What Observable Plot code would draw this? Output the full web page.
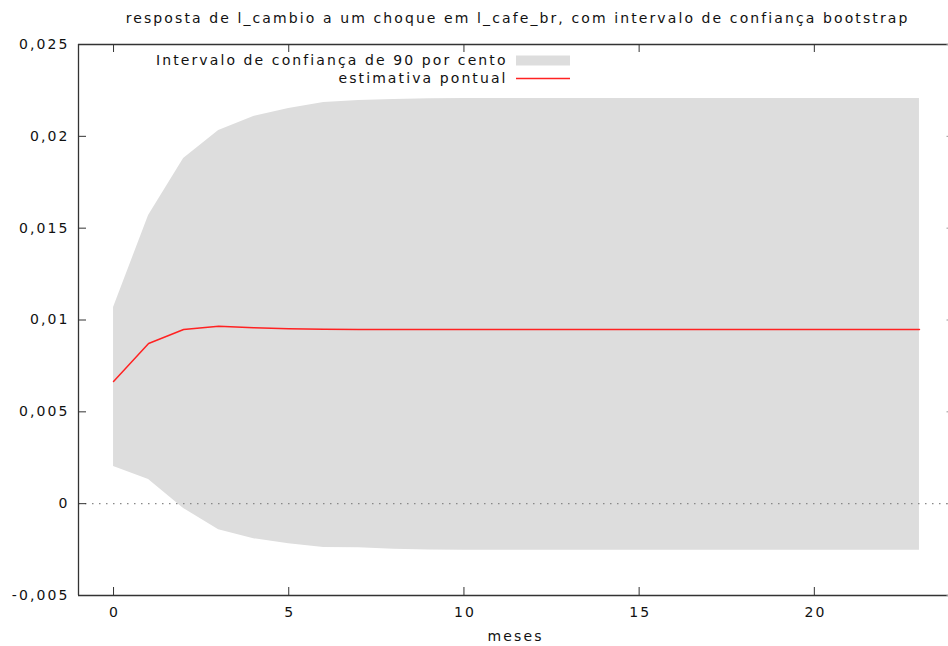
<!DOCTYPE html>
<html>
<head>
<meta charset="utf-8">
<script src="https://cdn.jsdelivr.net/npm/d3@7"></script>
<script src="https://cdn.jsdelivr.net/npm/@observablehq/plot@0.6"></script>
<style>
  html, body { margin: 0; padding: 0; background: #fff; overflow: hidden; }
</style>
</head>
<body>
<div id="chart"></div>
<script>
const titleText = "resposta de l_cambio a um choque em l_cafe_br, com intervalo de confiança bootstrap";
const xLabel = "meses";
const bandLabel = "Intervalo de confiança de 90 por cento";
const lineLabel = "estimativa pontual";

const months = [0, 1, 2, 3, 4, 5, 6, 7, 8, 9, 10, 11, 12, 13, 14, 15, 16, 17, 18, 19, 20, 21, 22, 23];
const upper = [0.01068, 0.01569, 0.01879, 0.02032, 0.02108, 0.02152, 0.02184, 0.02195, 0.02200, 0.02205,
               0.02206, 0.02206, 0.02206, 0.02206, 0.02206, 0.02206, 0.02206, 0.02206, 0.02206, 0.02206,
               0.02206, 0.02206, 0.02206, 0.02206];
const lower = [0.00203, 0.00132, -0.00026, -0.00142, -0.00191, -0.00218, -0.00238, -0.00240, -0.00248, -0.00252,
               -0.00253, -0.00253, -0.00253, -0.00253, -0.00253, -0.00253, -0.00253, -0.00253, -0.00253, -0.00253,
               -0.00253, -0.00253, -0.00253, -0.00253];
const point = [0.00665, 0.00872, 0.00948, 0.00966, 0.00958, 0.00952, 0.00949, 0.00948, 0.00948, 0.00948,
               0.00948, 0.00948, 0.00948, 0.00948, 0.00948, 0.00948, 0.00948, 0.00948, 0.00948, 0.00948,
               0.00948, 0.00948, 0.00948, 0.00948];

const xTicks = [0, 5, 10, 15, 20];
const yTicks = [-0.005, 0, 0.005, 0.01, 0.015, 0.02, 0.025];
const yTickLabels = ["-0,005", "0", "0,005", "0,01", "0,015", "0,02", "0,025"];

const data = months.map((m, i) => ({month: m, lo: lower[i], hi: upper[i], est: point[i]}));

const W = 948, H = 646;
const mL = 78, mT = 44, mB = 51, mR = 0;
const frameW = W - mL - mR, frameH = H - mT - mB;
const tickLen = 8;
const frameColor = "#333";
const fs = 14;
const ls = 2.1;

const chart = Plot.plot({
  width: W,
  height: H,
  marginLeft: mL,
  marginTop: mT,
  marginBottom: mB,
  marginRight: mR,
  style: {fontFamily: "DejaVu Sans, Verdana, sans-serif", fontSize: fs + "px", letterSpacing: ls + "px", color: "#111", background: "#fff"},
  x: {domain: [-1, 24], range: [mL, 954]},
  y: {domain: [-0.005, 0.025], range: [H - mB, mT]},
  marks: [
    Plot.areaY(data, {x: "month", y1: "lo", y2: "hi", fill: "#dddddd"}),
    Plot.ruleY([0], {stroke: "#888", strokeDasharray: "1.5,5.5", strokeWidth: 1.2}),
    Plot.lineY(data, {x: "month", y: "est", stroke: "#f22", strokeWidth: 1.5}),
    // frame
    Plot.ruleY([-0.005, 0.025], {stroke: frameColor, strokeWidth: 1.3}),
    Plot.ruleX([-1], {stroke: frameColor, strokeWidth: 1.3}),
    // inward ticks
    Plot.tickX(xTicks, {x: d => d, insetTop: frameH - tickLen, stroke: frameColor}),
    Plot.tickX(xTicks, {x: d => d, insetBottom: frameH - tickLen, stroke: frameColor}),
    Plot.tickY(yTicks, {y: d => d, insetRight: frameW - tickLen, stroke: frameColor}),
    Plot.tickY(yTicks, {y: d => d, insetLeft: frameW - 1.5, stroke: "#999"}),
    // axis labels
    Plot.axisX(xTicks, {anchor: "bottom", tickSize: 0, tickPadding: 12, fontSize: fs, dx: ls / 2, label: null, tickFormat: d => String(d)}),
    Plot.axisY(yTicks, {anchor: "left", tickSize: 0, tickPadding: 11 - ls, fontSize: fs, label: null, tickFormat: (d, i) => yTickLabels[i]}),
    Plot.text([xLabel], {frameAnchor: "bottom", dy: 41, dx: 1 + ls / 2, lineAnchor: "middle", fontSize: fs}),
    // title
    Plot.text([titleText], {frameAnchor: "top", dy: -26, dx: 3 + ls / 2, lineAnchor: "middle", fontSize: fs}),
    // legend
    Plot.text([bandLabel], {frameAnchor: "top-left", dx: 505 - mL + ls, dy: 16, textAnchor: "end", lineAnchor: "middle", fontSize: fs}),
    Plot.text([lineLabel], {frameAnchor: "top-left", dx: 505 - mL + ls, dy: 34, textAnchor: "end", lineAnchor: "middle", fontSize: fs}),
    Plot.ruleY([0.025], {dy: 16, stroke: "#dddddd", strokeWidth: 10, insetLeft: 516 - mL, insetRight: W - 570}),
    Plot.ruleY([0.025], {dy: 34, stroke: "#f22", strokeWidth: 1.5, insetLeft: 516 - mL, insetRight: W - 570})
  ]
});
document.getElementById("chart").appendChild(chart);
</script>
</body>
</html>
